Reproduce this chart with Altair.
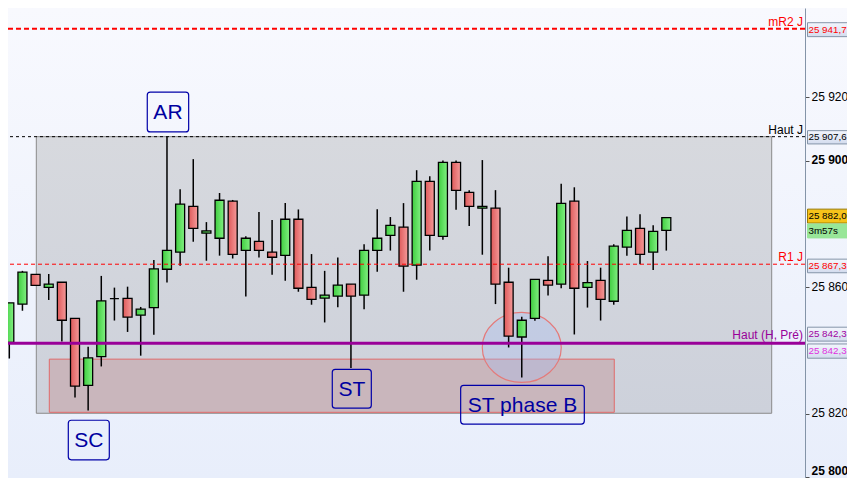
"""Candlestick chart with Wyckoff annotations (SC, AR, ST) rebuilt with altair."""

import altair as alt
import pandas as pd


FIG_WIDTH = 797
FIG_HEIGHT = 470
RIGHT_PAD = 42
FONT = 'Liberation Sans'

X_DOMAIN = [0.901, 61.555]
Y_DOMAIN = [25799.75, 25948.25]
AXIS_VALUES = [25800, 25820, 25860, 25900, 25920]

# one entry per candle, left to right (candle 0 is cut by the left edge)
OPEN = [25844.7, 25842.6, 25854.7, 25864.1, 25860.0, 25861.6, 25850.2, 25829.0, 25838.1, 25856.4,
        25856.5, 25851.2, 25853.6, 25865.7, 25871.1, 25885.6, 25877.1, 25875.5, 25887.2, 25871.7,
        25874.5, 25871.1, 25870.1, 25881.5, 25860.0, 25856.6, 25857.2, 25861.0, 25857.5, 25871.7,
        25876.4, 25879.0, 25867.0, 25893.5, 25876.1, 25899.5, 25890.0, 25885.0, 25885.0, 25861.6,
        25844.3, 25850.2, 25862.2, 25861.0, 25887.2, 25860.0, 25862.2, 25855.6, 25872.7, 25878.6,
        25871.1, 25878.0]
HIGH = [25845.0, 25855.1, 25865.2, 25864.1, 25864.2, 25861.6, 25850.2, 25841.2, 25863.6, 25859.9,
        25860.2, 25853.8, 25868.6, 25907.6, 25891.0, 25900.5, 25880.6, 25889.8, 25887.6, 25876.1,
        25883.8, 25881.3, 25886.6, 25884.6, 25870.5, 25865.2, 25869.4, 25861.0, 25873.6, 25884.7,
        25882.2, 25886.6, 25897.0, 25895.1, 25900.1, 25900.1, 25890.7, 25900.2, 25890.7, 25866.2,
        25850.7, 25862.5, 25869.8, 25892.7, 25891.6, 25868.3, 25866.2, 25873.6, 25882.4, 25883.1,
        25879.6, 25882.0]
LOW = [25842.0, 25837.5, 25852.6, 25860.6, 25856.0, 25842.9, 25825.2, 25821.1, 25835.0, 25849.5,
       25845.9, 25838.4, 25845.0, 25861.5, 25866.8, 25874.4, 25868.4, 25870.0, 25869.1, 25857.1,
       25869.4, 25864.0, 25862.1, 25858.6, 25854.5, 25848.9, 25853.7, 25834.5, 25853.1, 25864.9,
       25871.6, 25858.6, 25862.4, 25871.6, 25875.0, 25884.5, 25879.4, 25870.3, 25854.7, 25841.0,
       25831.5, 25849.4, 25857.4, 25859.7, 25845.1, 25853.6, 25849.5, 25854.5, 25870.0, 25867.3,
       25865.5, 25871.6]
CLOSE = [25842.6, 25855.1, 25864.8, 25860.6, 25861.0, 25849.6, 25828.8, 25837.7, 25855.7, 25856.4,
         25850.6, 25853.1, 25865.8, 25871.7, 25886.3, 25878.6, 25877.8, 25887.5, 25870.4, 25875.5,
         25871.7, 25869.5, 25881.5, 25859.7, 25856.2, 25857.5, 25860.7, 25857.2, 25871.7, 25875.5,
         25879.6, 25866.7, 25893.5, 25876.4, 25899.5, 25890.6, 25885.6, 25885.6, 25861.0, 25844.6,
         25849.6, 25862.5, 25860.7, 25886.5, 25859.7, 25861.5, 25856.2, 25873.0, 25878.0, 25870.4,
         25877.7, 25882.0]

# horizontal levels
LEVEL_NAMES = ['mR2 J', 'Haut J', 'R1 J', 'Haut (H, Pré)']
LEVEL_VALUES = [25941.7, 25907.6, 25867.3, 25842.3]

# shaded zones: trading range, SC/ST support box, lower box
ZONE_BAR_FROM = [3.055, 4.044, -5.0]
ZONE_BAR_TO = [59.02, 47.04, 51.03]
ZONE_LOW = [25820.2, 25820.5, 25780.0]
ZONE_HIGH = [25907.6, 25837.3, 25799.3]

# labelled boxes
NOTE_TEXT = ['AR', 'SC', 'ST', 'ST phase B']
NOTE_BAR_FROM = [11.50, 5.49, 25.58, 35.35]
NOTE_BAR_TO = [14.65, 8.61, 28.55, 44.76]
NOTE_LOW = [25909.1, 25805.5, 25821.8, 25816.8]
NOTE_HIGH = [25921.7, 25818.0, 25834.1, 25829.0]

# circled candle
CIRCLE_BAR = 40.0
CIRCLE_PRICE = 25841.0

# price tags on the right scale
TAG_TEXT = ['25 941,7', '25 907,6', '25 882,0', '3m57s', '25 867,3', '25 842,3', '25 842,3']
TAG_HIGH = [25943.6, 25909.5, 25884.7, 25880.0, 25868.9, 25847.4, 25842.1]
TAG_LOW = [25939.2, 25905.3, 25880.3, 25875.6, 25864.6, 25843.0, 25837.6]

ELLIPSE_PATH = 'M -1 0 A 1 0.886 0 1 1 1 0 A 1 0.886 0 1 1 -1 0 Z'

PRICE_AXIS = alt.Axis(
    orient='right',
    values=AXIS_VALUES,
    labelExpr="replace(format(datum.value, ',d'), ',', ' ')",
    labelFontWeight={'condition': {'test': 'datum.value % 100 === 0', 'value': 'bold'},
                     'value': 'normal'},
    labelOffset={'condition': {'test': 'datum.value === 25800', 'value': -7}, 'value': -1},
    labelFontSize=12,
    labelColor='black',
    labelPadding=2,
    tickSize=4,
    tickColor='#505050',
    domainColor='#8494a8',
    grid=False,
    title=None,
    zindex=1,
)


def gradient(start: str, end: str, horizontal: bool = False) -> alt.LinearGradient:
    """Two stop linear gradient, top to bottom unless horizontal."""
    return alt.LinearGradient(
        gradient='linear',
        stops=[alt.GradientStop(color=start, offset=0), alt.GradientStop(color=end, offset=1)],
        x1=0, y1=0, x2=1 if horizontal else 0, y2=0 if horizontal else 1,
    )


def x_enc(field: str) -> alt.X:
    return alt.X(f'{field}:Q', scale=alt.Scale(domain=X_DOMAIN, nice=False, zero=False, padding=0),
                 axis=None)


def y_enc(field: str) -> alt.Y:
    # every layer carries the same axis so that the shared axis is kept
    return alt.Y(f'{field}:Q', scale=alt.Scale(domain=Y_DOMAIN, nice=False, zero=False),
                 axis=PRICE_AXIS)


def background() -> alt.Chart:
    data = pd.DataFrame({'b0': [-5.0], 'b1': [75.0], 'p0': [Y_DOMAIN[0]], 'p1': [Y_DOMAIN[1]]})
    return alt.Chart(data).mark_rect(
        fill=gradient('#f8f9fe', '#e8eefb'), clip=False
    ).encode(x=x_enc('b0'), x2='b1', y=y_enc('p0'), y2='p1')


def zone(i: int, fill, stroke: str) -> alt.Chart:
    data = pd.DataFrame({'b0': [ZONE_BAR_FROM[i]], 'b1': [ZONE_BAR_TO[i]],
                         'p0': [ZONE_LOW[i]], 'p1': [ZONE_HIGH[i]]})
    return alt.Chart(data).mark_rect(fill=fill, stroke=stroke, strokeWidth=1, clip=True).encode(
        x=x_enc('b0'), x2='b1', y=y_enc('p0'), y2='p1'
    )


def circle() -> alt.Chart:
    data = pd.DataFrame({'bar': [CIRCLE_BAR], 'price': [CIRCLE_PRICE]})
    return alt.Chart(data).mark_point(
        shape=ELLIPSE_PATH, size=6241, filled=True, fill='#a9bdf0', fillOpacity=0.35,
        stroke='#e47a7a', strokeWidth=1.2, strokeOpacity=1, opacity=1,
    ).encode(x=x_enc('bar'), y=y_enc('price'))


def candles() -> alt.LayerChart:
    data = pd.DataFrame({'bar': range(len(OPEN)), 'open': OPEN, 'high': HIGH,
                         'low': LOW, 'close': CLOSE})
    base = alt.Chart(data)
    wicks = base.mark_rule(color='black', strokeWidth=1.5, clip=True).encode(
        x=x_enc('bar'), y=y_enc('low'), y2='high'
    )
    up = base.transform_filter('datum.close >= datum.open').mark_bar(
        size=9, fill=gradient('#3fcd3f', '#82f082', horizontal=True),
        stroke='black', strokeWidth=1.3, clip=True,
    ).encode(x=x_enc('bar'), y=y_enc('open'), y2='close')
    down = base.transform_filter('datum.close < datum.open').mark_bar(
        size=9, fill=gradient('#de5a5a', '#f59a9a', horizontal=True),
        stroke='black', strokeWidth=1.3, clip=True,
    ).encode(x=x_enc('bar'), y=y_enc('open'), y2='close')
    return alt.layer(wicks, up, down)


def level(i: int, color: str, width: float, label_dy: float, dash=None) -> alt.LayerChart:
    data = pd.DataFrame({'value': [LEVEL_VALUES[i]], 'name': [LEVEL_NAMES[i]]})
    rule_kwargs = {'color': color, 'strokeWidth': width}
    if dash:
        rule_kwargs['strokeDash'] = dash
    rule = alt.Chart(data).mark_rule(**rule_kwargs).encode(y=y_enc('value'))
    label = alt.Chart(data).mark_text(
        align='right', baseline='alphabetic', dx=-2, dy=label_dy, fontSize=12, color=color
    ).encode(x=alt.value(FIG_WIDTH), y=y_enc('value'), text='name:N')
    return rule + label


def notes() -> alt.LayerChart:
    data = pd.DataFrame({'b0': NOTE_BAR_FROM, 'b1': NOTE_BAR_TO, 'p0': NOTE_LOW,
                         'p1': NOTE_HIGH, 'text': NOTE_TEXT})
    base = alt.Chart(data)
    boxes = base.mark_rect(filled=False, stroke='#0000a8', strokeWidth=1.2, cornerRadius=3).encode(
        x=x_enc('b0'), x2='b1', y=y_enc('p0'), y2='p1'
    )
    texts = base.transform_calculate(
        bc='(datum.b0 + datum.b1) / 2', pc='(datum.p0 + datum.p1) / 2'
    ).mark_text(fontSize=21, color='#0000a0', align='center', baseline='middle', dy=1).encode(
        x=x_enc('bc'), y=y_enc('pc'), text='text:N'
    )
    return boxes + texts


def price_tag(i: int, fill, text_color: str, stroke: str = '#8494a8') -> alt.LayerChart:
    data = pd.DataFrame({'p0': [TAG_LOW[i]], 'p1': [TAG_HIGH[i]], 'text': [TAG_TEXT[i]]})
    box = alt.Chart(data).mark_rect(fill=fill, stroke=stroke, strokeWidth=1, clip=False).encode(
        x=alt.value(FIG_WIDTH + 2.5), x2=alt.value(FIG_WIDTH + 70), y=y_enc('p0'), y2='p1'
    )
    # the page margin leaves little room: a smaller size keeps the whole value visible
    text = alt.Chart(data).transform_calculate(pc='(datum.p0 + datum.p1) / 2').mark_text(
        align='left', baseline='middle', fontSize=9.8, color=text_color, clip=False
    ).encode(x=alt.value(FIG_WIDTH + 3.5), y=y_enc('pc'), text='text:N')
    return box + text


tag_fill = gradient('#f3f6fd', '#d3dcee')

chart = alt.layer(
    background(),
    zone(0, gradient('#d7d9de', '#cdd1db'), '#8a8a8a'),
    zone(1, '#c9b6bc', '#e06a6a'),
    zone(2, '#eccbd5', '#e07272'),
    circle(),
    candles(),
    level(3, '#990099', 3, -4),
    level(2, '#ff0000', 1, -3, [4, 3]),
    level(1, '#000000', 1, -3, [3, 3]),
    level(0, '#ff0000', 2, -3, [5, 3]),
    notes(),
    price_tag(0, tag_fill, '#ff0000'),
    price_tag(1, tag_fill, '#000000'),
    price_tag(2, '#f6c31a', '#000000', '#9a7a00'),
    price_tag(3, '#98e698', '#000000', '#98e698'),
    price_tag(4, tag_fill, '#ff0000'),
    price_tag(5, tag_fill, '#a000a0'),
    price_tag(6, tag_fill, '#e030e0'),
).properties(
    width=FIG_WIDTH,
    height=FIG_HEIGHT,
    padding={'left': 0, 'top': 0, 'right': RIGHT_PAD, 'bottom': 0},
    autosize='none',
).configure(
    font=FONT,
    background='#eef2fc',
).configure_view(
    strokeWidth=0,
)

chart.save('out.html', embed_options={'renderer': 'svg', 'actions': False})
